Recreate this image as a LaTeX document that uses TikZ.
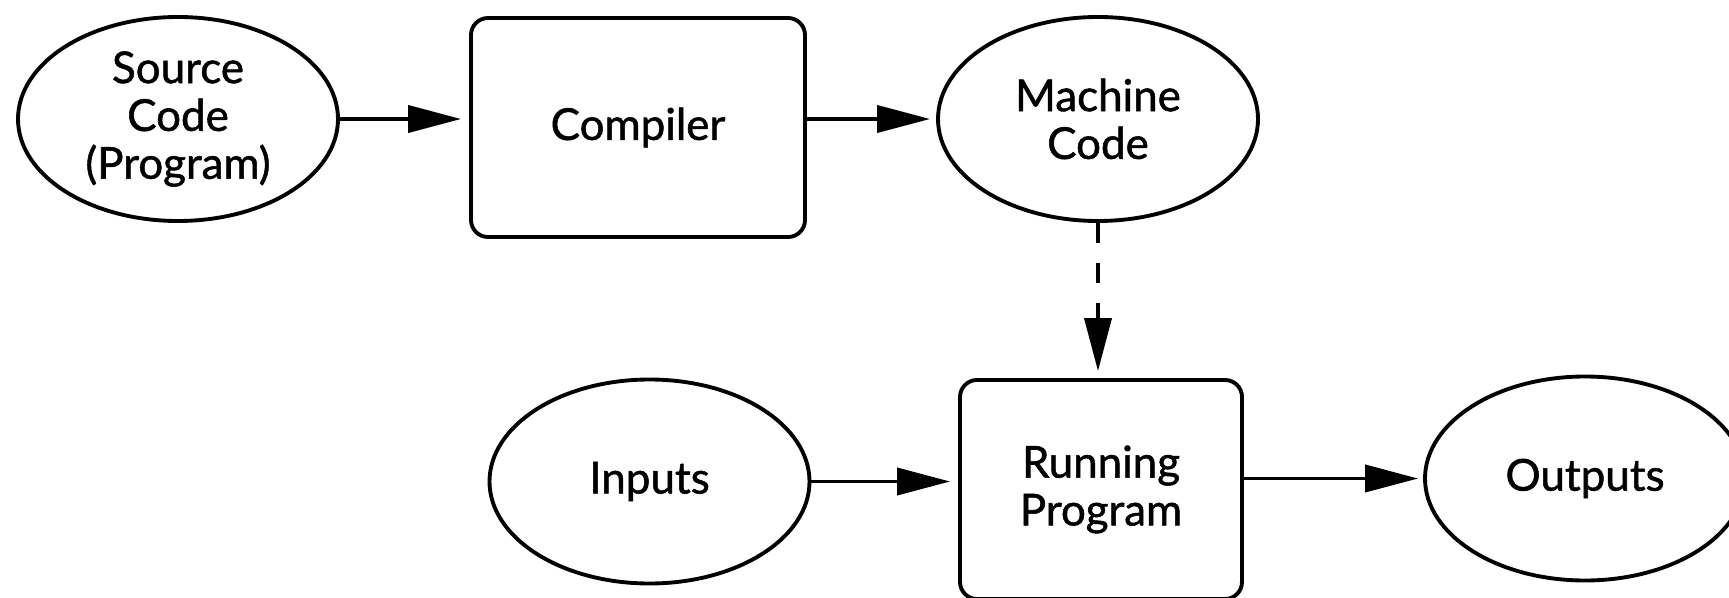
\documentclass[tikz,border=0pt]{standalone}
\usepackage{fontspec}
\setmainfont{Lato}[UprightFeatures = {FakeBold = 1.2}]
\usetikzlibrary{arrows.meta,shapes.geometric}

\begin{document}
\begin{tikzpicture}[
        blob/.style = {draw, ellipse, line width = 1.1pt, minimum width = 3.2cm, minimum height = 2.04cm, inner sep = 0pt, align = center},
        procbox/.style = {draw, rectangle, rounded corners = 0.17cm, line width = 1.1pt, inner sep = 0pt, align = center},
        flowarrow/.style = {line width = 1.1pt, -{Triangle[length = 5.3mm, width = 2.7mm]}},
        font = \fontsize{12.5}{13.6}\selectfont]
    \clip (0,0) rectangle (17.29,5.97);
    % top row
    \node[blob] (src) at (1.78,4.78) {Source\\Code\\(Program)};
    \node[procbox, minimum width = 3.34cm, minimum height = 2.19cm] (comp) at (6.38,4.695) {Compiler};
    \node[blob] (mach) at (10.98,4.78) {Machine\\Code};
    % bottom row
    \node[blob] (inp) at (6.495,1.155) {Inputs};
    \node[procbox, minimum width = 2.82cm, minimum height = 2.19cm] (run) at (11.01,1.075) {Running\\Program};
    \node[blob] (out) at (15.85,1.185) {Outputs};
    \begin{scope}[style = flowarrow]
        \draw[shorten > = 0.08cm] (src.east) -- (comp.west |- src.east);
        \draw[shorten > = 0.06cm] (comp.east |- mach.west) -- (mach.west);
        \draw[dash pattern = on 2mm off 2mm, shorten > = 0.07cm] (mach.south) -- (mach.south |- run.north);
        \draw[shorten > = 0.08cm] (inp.east) -- (inp.east -| run.west);
        \draw[shorten > = 0.05cm] (run.east |- out.west) -- (out.west);
    \end{scope}
\end{tikzpicture}
\end{document}
